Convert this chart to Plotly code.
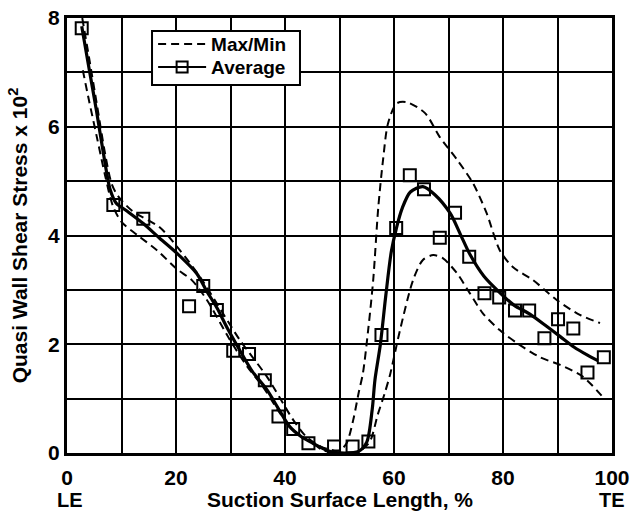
import plotly.graph_objects as go

# Average measured points (squares)
avg_pts_x = [2.7, 8.5, 14.0, 22.4, 25.0, 27.5, 30.5, 33.4, 36.3, 38.8, 41.5, 44.3,
             49.0, 52.4, 55.3, 57.7, 60.4, 62.9, 65.5, 68.4, 71.2, 73.8, 76.6, 79.3,
             82.2, 84.8, 87.6, 90.1, 92.9, 95.5, 98.5]
avg_pts_y = [7.81, 4.56, 4.31, 2.70, 3.07, 2.63, 1.88, 1.82, 1.34, 0.67, 0.44, 0.18,
             0.12, 0.12, 0.21, 2.17, 4.14, 5.11, 4.85, 3.96, 4.42, 3.61, 2.94, 2.86,
             2.62, 2.62, 2.11, 2.46, 2.29, 1.48, 1.76]

# Average fitted curve (solid)
avg_x = [2.7, 4.0, 5.4, 6.7, 7.9, 9.0, 11.0, 14.0, 17.0, 20.2, 23.8, 25.5, 27.5, 29.5,
         31.7, 34.0, 36.7, 39.0, 40.9, 43.0, 45.1, 48.2, 51.0, 53.5, 55.0, 56.0, 56.5,
         57.5, 58.5, 59.5, 60.5, 61.5, 63.0, 65.3, 67.5, 70.3, 72.1, 74.0, 76.5, 79.4,
         82.0, 85.0, 88.0, 90.5, 93.0, 95.5, 97.4]
avg_y = [7.85, 7.10, 6.30, 5.50, 4.85, 4.60, 4.45, 4.22, 3.95, 3.67, 3.30, 3.00, 2.67, 2.28,
         1.89, 1.50, 1.16, 0.78, 0.48, 0.30, 0.18, 0.03, 0.00, 0.03, 0.20, 0.80, 1.34,
         2.00, 2.90, 3.70, 4.16, 4.50, 4.80, 4.90, 4.75, 4.41, 4.04, 3.64, 3.25, 2.95,
         2.72, 2.55, 2.33, 2.14, 1.95, 1.80, 1.70]

# Max envelope (dashed)
max_x = [2.8, 4.0, 5.5, 7.0, 8.2, 9.4, 12.0, 17.0, 20.7, 24.4, 28.6, 31.7, 36.7, 41.5,
         44.0, 47.0, 50.0, 51.3, 52.5, 53.5, 54.3, 55.3, 56.2, 57.1, 58.0, 58.9, 60.5,
         62.4, 65.7, 68.4, 71.6, 74.5, 77.0, 79.4, 81.8, 85.5, 89.9, 94.1, 97.8]
max_y = [8.00, 7.30, 6.40, 5.50, 4.95, 4.72, 4.45, 4.15, 3.73, 3.24, 2.57, 2.08, 1.40, 0.61,
         0.29, 0.10, 0.05, 0.18, 0.60, 1.10, 1.47, 2.30, 3.20, 4.50, 5.40, 6.06, 6.43,
         6.45, 6.25, 5.81, 5.39, 4.96, 4.41, 3.73, 3.42, 3.18, 2.81, 2.54, 2.39]

# Min envelope (dashed)
min_x = [2.9, 4.0, 5.5, 7.0, 8.4, 10.0, 13.0, 16.5, 20.2, 22.9, 25.7, 29.9, 33.0, 36.0,
         39.1, 41.5, 45.1, 47.0, 50.0, 53.0, 55.5, 57.0, 58.3, 59.3, 61.1, 63.5, 65.3,
         67.2, 69.0, 71.6, 73.9, 76.3, 79.4, 82.6, 86.8, 90.5, 94.7, 98.3]
min_y = [7.04, 6.50, 5.80, 5.10, 4.55, 4.25, 4.00, 3.73, 3.38, 3.18, 2.81, 2.08, 1.60, 1.21,
         0.73, 0.42, 0.18, 0.05, 0.00, 0.00, 0.20, 0.70, 1.10, 1.45, 2.26, 3.18, 3.55,
         3.64, 3.58, 3.30, 2.94, 2.57, 2.26, 2.02, 1.76, 1.62, 1.40, 1.03]

FONT = "Liberation Sans, Arial, sans-serif"
DASH = "8px,5px"

def f(size):
    return dict(family=FONT, size=size, color="black", weight="bold")

fig = go.Figure()
fig.add_trace(go.Scatter(x=max_x, y=max_y, mode="lines", name="Max/Min",
                         line=dict(color="black", width=2, dash=DASH, shape="spline", smoothing=0.8),
                         showlegend=True, legend="legend"))
fig.add_trace(go.Scatter(x=min_x, y=min_y, mode="lines", name="Max/Min",
                         line=dict(color="black", width=2, dash=DASH, shape="spline", smoothing=0.8),
                         showlegend=False))
fig.add_trace(go.Scatter(x=avg_x, y=avg_y, mode="lines", name="Average curve",
                         line=dict(color="black", width=3.2, shape="spline", smoothing=0.8),
                         showlegend=False))
fig.add_trace(go.Scatter(x=avg_pts_x, y=avg_pts_y, mode="markers", name="Average points",
                         marker=dict(symbol="square-open", size=12, color="black",
                                     line=dict(width=2, color="black")),
                         showlegend=False))
fig.add_trace(go.Scatter(x=[None], y=[None], mode="lines+markers", name="Average",
                         line=dict(color="black", width=2),
                         marker=dict(symbol="square-open", size=11, color="black",
                                     line=dict(width=2, color="black")),
                         showlegend=True, legend="legend2"))

fig.update_xaxes(range=[0, 100], dtick=20, tick0=0, automargin=False,
                 showgrid=True, gridcolor="black", gridwidth=2,
                 minor=dict(dtick=10, showgrid=True, gridcolor="black", gridwidth=2),
                 showline=True, linecolor="black", linewidth=3, mirror=True,
                 ticks="", zeroline=False, ticklabelstandoff=4,
                 tickfont=f(21))
fig.update_yaxes(range=[0, 8], dtick=2, tick0=0, automargin=False,
                 showgrid=True, gridcolor="black", gridwidth=2,
                 minor=dict(dtick=1, showgrid=True, gridcolor="black", gridwidth=2),
                 showline=True, linecolor="black", linewidth=3, mirror=True,
                 ticks="", zeroline=False,
                 tickfont=f(21),
                 title=dict(text="Quasi Wall Shear Stress x 10<sup>2</sup>",
                            font=f(21)))

fig.add_annotation(x=0.005, y=-0.108, xref="paper", yref="paper", text="LE", showarrow=False,
                   xanchor="center", yanchor="middle", font=f(20))
fig.add_annotation(x=1.0, y=-0.108, xref="paper", yref="paper", text="TE", showarrow=False,
                   xanchor="center", yanchor="middle", font=f(20))
fig.add_annotation(x=0.5, y=-0.108, xref="paper", yref="paper", text="Suction Surface Length, %",
                   showarrow=False, xanchor="center", yanchor="middle", font=f(21))

# legend frame
fig.add_shape(type="rect", xref="paper", yref="paper", x0=0.156, x1=0.4275, y0=0.846, y1=0.970,
              line=dict(color="black", width=2), fillcolor="white", layer="above")

leg_common = dict(xanchor="left", yanchor="middle", bgcolor="rgba(0,0,0,0)", borderwidth=0,
                  font=f(19), itemwidth=48)
fig.update_layout(
    width=631, height=517,
    margin=dict(l=67, r=19, t=18, b=64),
    paper_bgcolor="white", plot_bgcolor="white",
    legend=dict(x=0.158, y=0.940, **leg_common),
    legend2=dict(x=0.158, y=0.887, **leg_common),
)

fig.write_html("out.html")
